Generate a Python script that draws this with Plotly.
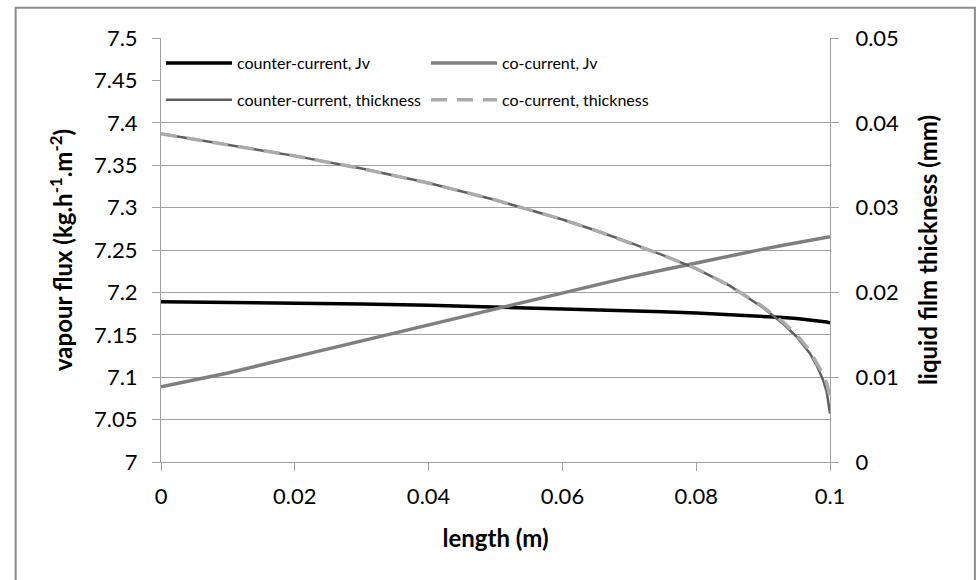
import plotly.graph_objects as go

# Data
length_m = [0, 0.01, 0.02, 0.03, 0.04, 0.05, 0.06, 0.065, 0.07, 0.075, 0.08,
            0.085, 0.09, 0.093, 0.095, 0.097, 0.098, 0.099, 0.0995, 0.1]

counter_jv = [7.189, 7.1884, 7.1875, 7.1862, 7.1848, 7.1828, 7.1808, 7.1797, 7.1785,
              7.1772, 7.1757, 7.1740, 7.1718, 7.1703, 7.1692, 7.1677, 7.1668, 7.1657,
              7.1650, 7.1643]

co_jv = [7.0886, 7.105, 7.124, 7.143, 7.161, 7.180, 7.199, 7.2085, 7.218, 7.2265, 7.235,
         7.243, 7.251, 7.2555, 7.2585, 7.2615, 7.263, 7.2645, 7.265, 7.2657]

counter_thk = [0.0387, 0.03742, 0.0361, 0.0346, 0.0329, 0.0309, 0.0286, 0.0273, 0.0259,
               0.0244, 0.0228, 0.0208, 0.0182, 0.0163, 0.0148, 0.0128, 0.0114, 0.0096,
               0.0083, 0.0057]

co_thk = [0.0387, 0.03742, 0.0361, 0.0346, 0.0329, 0.0309, 0.0286, 0.0273, 0.0259,
          0.0244, 0.0228, 0.0208, 0.0183, 0.0165, 0.0150, 0.0131, 0.0117, 0.0103,
          0.0093, 0.0077]

x_ticks = [0, 0.02, 0.04, 0.06, 0.08, 0.1]
x_ticklabels = ["0", "0.02", "0.04", "0.06", "0.08", "0.1"]
# gridded ticks (the 7.45 gridline is hidden behind the legend in the original)
y_ticks = [7, 7.05, 7.1, 7.15, 7.2, 7.25, 7.3, 7.35, 7.4, 7.5]
y_ticklabels = ["7", "7.05", "7.1", "7.15", "7.2", "7.25", "7.3", "7.35", "7.4", "7.5"]
y_hidden_ticks = [7.45]
y_hidden_ticklabels = ["7.45"]
y2_ticks = [0, 0.01, 0.02, 0.03, 0.04, 0.05]
y2_ticklabels = ["0", "0.01", "0.02", "0.03", "0.04", "0.05"]

FONT = "Lato"
AX = "#a0a0a0"

fig = go.Figure()
fig.add_trace(go.Scatter(x=length_m, y=counter_jv, mode="lines", name="counter-current, Jv",
                         legend="legend", line=dict(color="#000000", width=3.5)))
fig.add_trace(go.Scatter(x=length_m, y=co_jv, mode="lines", name="co-current, Jv",
                         legend="legend", line=dict(color="#7f7f7f", width=3.5)))
fig.add_trace(go.Scatter(x=length_m, y=counter_thk, mode="lines", name="counter-current, thickness",
                         legend="legend2", yaxis="y2", line=dict(color="#5f5f5f", width=2.5)))
fig.add_trace(go.Scatter(x=length_m, y=co_thk, mode="lines", name="co-current, thickness",
                         legend="legend2", yaxis="y2",
                         line=dict(color="#ababab", width=3.5, dash="16px,10px")))

legend_common = dict(orientation="h", x=0.0, xanchor="left", yanchor="middle",
                     bgcolor="rgba(0,0,0,0)",
                     font=dict(family=FONT, size=16, color="#000000"),
                     entrywidth=184, entrywidthmode="pixels", itemwidth=66)

tickfont = dict(family=FONT, size=22, color="#000000")

fig.update_layout(
    width=977, height=580,
    margin=dict(l=160.5, r=147, t=38, b=118, autoexpand=False),
    paper_bgcolor="white", plot_bgcolor="white",
    font=dict(family=FONT, color="#000000"),
    showlegend=True,
    legend=dict(y=0.941, **legend_common),
    legend2=dict(y=0.854, **legend_common),
    xaxis=dict(range=[0, 0.1], tickvals=x_ticks, ticktext=x_ticklabels,
               showgrid=False, zeroline=False, showline=True, linecolor=AX, linewidth=1,
               ticks="outside", ticklen=8, tickcolor=AX, ticklabelstandoff=7,
               automargin=False, tickfont=tickfont,
               title=dict(text="<b>length (m)</b>", font=dict(family=FONT, size=24), standoff=21)),
    yaxis=dict(range=[7, 7.5], tickvals=y_ticks, ticktext=y_ticklabels,
               showgrid=True, gridcolor=AX, gridwidth=1, zeroline=False,
               showline=True, linecolor=AX, linewidth=1,
               ticks="outside", ticklen=8, tickcolor=AX, ticklabelstandoff=10,
               automargin=False, tickfont=tickfont,
               title=dict(text="<b>vapour flux (kg.h<sup>-1</sup>.m<sup>-2</sup>)</b>",
                          font=dict(family=FONT, size=24), standoff=14)),
    yaxis3=dict(range=[7, 7.5], tickvals=y_hidden_ticks, ticktext=y_hidden_ticklabels,
                overlaying="y", side="left", showgrid=False, zeroline=False, showline=False,
                ticks="outside", ticklen=8, tickcolor=AX, ticklabelstandoff=10,
                automargin=False, tickfont=tickfont),
    yaxis2=dict(range=[0, 0.05], tickvals=y2_ticks, ticktext=y2_ticklabels,
                overlaying="y", side="right", showgrid=False, zeroline=False,
                showline=True, linecolor=AX, linewidth=1,
                ticks="outside", ticklen=8, tickcolor=AX, ticklabelstandoff=12,
                automargin=False, tickfont=tickfont,
                title=dict(text="<b>liquid film thickness (mm)</b>",
                           font=dict(family=FONT, size=24), standoff=22)),
    shapes=[
        dict(type="rect", xref="paper", yref="paper",
             x0=-0.2173, x1=1.2166, y0=-0.35, y1=1.0716,
             line=dict(color="#8c8c8c", width=2), fillcolor="rgba(0,0,0,0)", layer="below"),
    ],
)

# an empty trace so the extra left axis (for the 7.45 label) is drawn
fig.add_trace(go.Scatter(x=[None], y=[None], yaxis="y3", showlegend=False, hoverinfo="skip"))

fig.write_html("out.html", config={"displayModeBar": False},
               post_script="document.body.style.margin='0';document.body.style.overflow='hidden';")
